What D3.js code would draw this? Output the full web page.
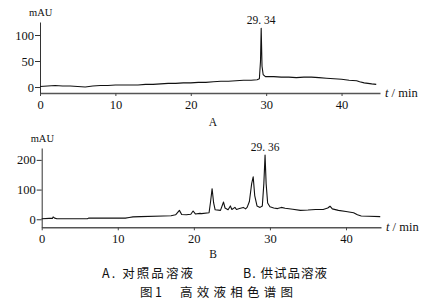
<!DOCTYPE html>
<html>
<head>
<meta charset="utf-8">
<script src="https://cdn.jsdelivr.net/npm/d3@7"></script>
<style>
  body { margin: 0; background: #fff; }
  svg text { font-family: "Liberation Serif", "Times New Roman", "DejaVu Serif", serif; fill: #111; }
  svg text.cjk { font-family: "Noto Sans CJK SC", sans-serif; }
</style>
</head>
<body>
<svg width="439" height="305"></svg>
<script>
// chromatogram A (reference solution): retention time (min) / absorbance (mAU)
var timeA = [0, 1, 2, 3, 4, 5, 6, 7, 8, 9, 10, 11, 12, 13, 14, 15, 16, 17, 18, 19, 20, 21, 22, 23, 24, 25, 26, 27, 28, 28.8, 29.1, 29.25, 29.34, 29.45, 29.6, 29.9, 31, 32, 33, 34, 35, 36, 37, 38, 39, 40, 41, 42, 42.4, 43, 44, 44.6];
var mauA  = [1, 2, 3, 2, 2, 1, 0, 2, 3, 3, 4, 4, 4, 4, 5, 5, 6, 7, 7, 8, 8, 9, 9, 10, 11, 11, 12, 13, 13, 14, 16, 50, 113, 40, 24, 20, 20, 19, 19, 18, 19, 19, 18, 17, 16, 15, 13, 12, 10, 8, 6, 5];

// chromatogram B (sample solution)
var timeB = [0, 1, 1.4, 1.5, 1.7, 2, 6, 6.2, 11, 11.5, 12, 13, 16, 17, 17.6, 18.1, 18.4, 19, 19.6, 19.9, 20.2, 20.8, 21, 22, 22.2, 22.4, 22.6, 22.8, 23.5, 23.9, 24.1, 24.5, 24.8, 25, 25.4, 25.6, 26, 26.5, 26.8, 27, 27.3, 27.6, 27.8, 28, 28.3, 28.7, 29, 29.2, 29.36, 29.5, 29.7, 30, 30.5, 31, 31.5, 32, 33, 34, 35, 36, 37, 37.6, 37.9, 38.2, 39, 40, 41, 41.5, 42, 43, 44.5];
var mauB  = [2, 3, 3, 8, 4, 2, 2, 4, 4, 6, 8, 9, 11, 12, 15, 30, 16, 15, 17, 28, 18, 20, 19, 22, 60, 103, 55, 32, 30, 58, 38, 32, 45, 33, 40, 33, 36, 40, 35, 40, 60, 120, 143, 80, 45, 40, 45, 120, 216, 120, 55, 42, 38, 36, 40, 37, 34, 30, 31, 33, 33, 38, 44, 35, 30, 26, 22, 15, 11, 10, 9];

var xTicks = [0, 10, 20, 30, 40];
var yTicksA = [0, 50, 100];
var yTicksB = [0, 100, 200];
var peakA = {t: 29.34, label: "29. 34"};
var peakB = {t: 29.36, label: "29. 36"};

var serif = "'Liberation Serif', 'Times New Roman', serif";
var svg = d3.select("svg");

function panel(cfg) {
  var x = d3.scaleLinear().domain([0, cfg.xMax]).range([cfg.left, cfg.right]);
  var y = d3.scaleLinear().domain(cfg.yDomain).range([cfg.bottom, cfg.top]);
  var g = svg.append("g");

  // x axis
  var xa = g.append("g")
      .attr("transform", "translate(0," + cfg.bottom + ")")
      .call(d3.axisBottom(x).tickValues(xTicks).tickSize(3).tickPadding(4).tickSizeOuter(0));
  xa.attr("font-family", null);
  xa.select(".domain").attr("stroke", "#555").attr("stroke-width", 1.4);
  xa.selectAll("line").attr("stroke", "#444");
  xa.selectAll("text").style("font-size", "12.5px").style("font-family", serif);

  // y axis
  var ya = g.append("g")
      .attr("transform", "translate(" + cfg.left + ",0)")
      .call(d3.axisLeft(y).tickValues(cfg.yTicks).tickSize(5).tickPadding(1).tickSizeOuter(0));
  ya.attr("font-family", null);
  ya.select(".domain").attr("stroke", "#333").attr("stroke-width", 1);
  ya.selectAll("line").attr("stroke", "#333");
  ya.selectAll("text").style("font-size", "12.5px").style("font-family", serif);

  g.append("text").attr("x", cfg.left - 11).attr("y", cfg.top - 6)
    .style("font-size", "10.5px").text("mAU");

  g.append("text").attr("x", cfg.right + 5).attr("y", cfg.bottom + 4)
    .style("font-size", "12.5px")
    .html('<tspan font-style="italic">t</tspan> / min');

  var pts = cfg.times.map(function(t, i) { return [t, cfg.vals[i]]; });
  var line = d3.line().x(function(d) { return x(d[0]); }).y(function(d) { return y(d[1]); });
  g.append("path").datum(pts)
    .attr("d", line)
    .attr("fill", "none").attr("stroke", "#111").attr("stroke-width", 1.1)
    .attr("stroke-linejoin", "round");

  var pk = cfg.peak;
  var pv = cfg.vals[cfg.times.indexOf(pk.t)];
  g.append("text").attr("x", x(pk.t)).attr("y", y(pv) - 4)
    .attr("text-anchor", "middle").style("font-size", "11.5px").text(pk.label);

  g.append("text").attr("x", 213).attr("y", cfg.bottom + cfg.nameDy)
    .attr("text-anchor", "middle").style("font-size", "11.5px").text(cfg.name);
}

panel({times: timeA, vals: mauA, xMax: 45.1, yDomain: [-11.5, 125], yTicks: yTicksA,
       left: 40, right: 380, top: 22, bottom: 93, peak: peakA, name: "A", nameDy: 33});
panel({times: timeB, vals: mauB, xMax: 44.6, yDomain: [-27, 240], yTicks: yTicksB,
       left: 41.7, right: 381, top: 148, bottom: 227.3, peak: peakB, name: "B", nameDy: 31});

// caption
var caption = [
  {t: "A. 对照品溶液", x: 102, y: 278, w: 91},
  {t: "B. 供试品溶液", x: 243, y: 278, w: 84},
  {t: "图 1", x: 140, y: 297, w: 22},
  {t: "高效液相色谱图", x: 180, y: 297, w: 113}
];
svg.selectAll("text.cap").data(caption).enter().append("text")
  .attr("class", "cjk cap")
  .attr("x", function(d) { return d.x; })
  .attr("y", function(d) { return d.y; })
  .attr("textLength", function(d) { return d.w; })
  .attr("lengthAdjust", "spacing")
  .style("font-size", "12.5px")
  .text(function(d) { return d.t; });
</script>
</body>
</html>
